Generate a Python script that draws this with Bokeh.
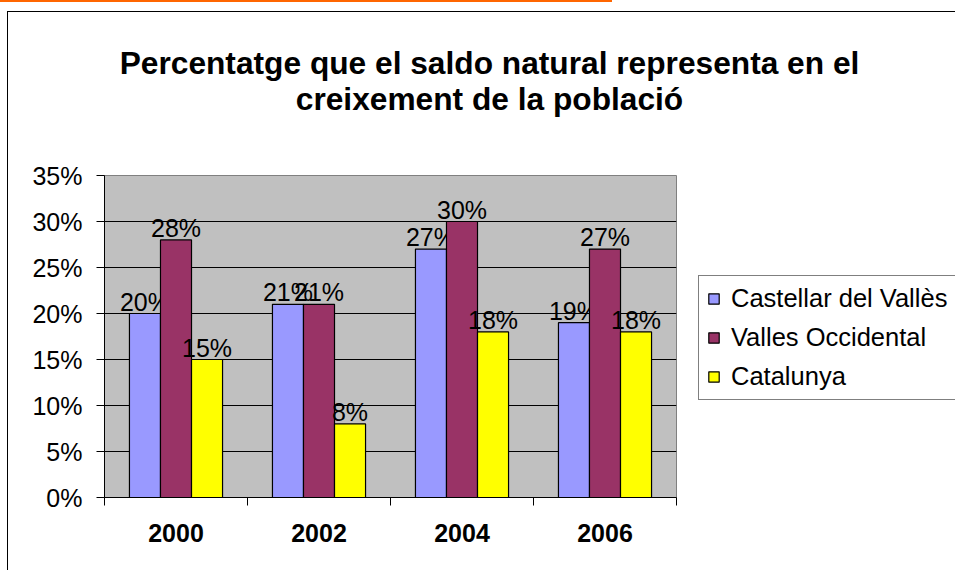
import numpy as np
from bokeh.plotting import figure
from bokeh.layouts import column, row
from bokeh.models import (ColumnDataSource, Range1d, FixedTicker,
                          NumeralTickFormatter, Legend, LegendItem)
from bokeh.core.properties import value
from bokeh.embed import file_html
from bokeh.resources import INLINE

# ---------------- data ----------------
title_lines = ["Percentatge que el saldo natural representa en el",
               "creixement de la població"]
years = ["2000", "2002", "2004", "2006"]
series = ["Castellar del Vallès", "Valles Occidental", "Catalunya"]
castellar = [0.20, 0.21, 0.27, 0.19]
valles = [0.28, 0.21, 0.30, 0.27]
catalunya = [0.15, 0.08, 0.18, 0.18]
y_ticks = [0.00, 0.05, 0.10, 0.15, 0.20, 0.25, 0.30, 0.35]

# ---------------- style / layout ----------------
colors = ["#9999FF", "#993366", "#FFFF00"]
FONT = "Liberation Sans"
W, H = 955, 570
TITLE_H = 130                          # height of the title strip
FL, FR, FT, FB = 104, 676, 175, 497    # plot frame in page pixels
MAIN_W = FR + 4                        # width of the chart figure
LEG_W = W - MAIN_W                     # width of the legend strip
LEG_LEFT, LEG_BOTTOM = 698, 400        # legend box position in page pixels


def bare(width, height, x_range, y_range):
    f = figure(width=width, height=height, output_backend="svg", toolbar_location=None,
               x_range=x_range, y_range=y_range, x_axis_type=None, y_axis_type=None,
               min_border=0, title=None, frame_align=False)
    f.outline_line_color = None
    f.grid.visible = False
    f.background_fill_color = "white"
    f.border_fill_color = "white"
    return f


# ---- title strip ----
t = bare(W, TITLE_H, Range1d(0, W), Range1d(TITLE_H, 0))
t.text(x=[489, 489], y=[62, 98], text=title_lines, text_align="center",
       text_baseline="alphabetic", text_font=value(FONT), text_font_size="31.7px",
       text_font_style="bold", text_color="black")

# ---- main chart ----
n = len(years)
x_lo, x_hi = -0.5, n - 0.5

p = figure(width=MAIN_W, height=H - TITLE_H, output_backend="svg", toolbar_location=None,
           title=None, frame_align=False,
           x_range=Range1d(x_lo, x_hi), y_range=Range1d(y_ticks[0], y_ticks[-1]),
           min_border_left=FL, min_border_right=MAIN_W - FR,
           min_border_top=FT - TITLE_H, min_border_bottom=H - FB)

p.background_fill_color = "#C0C0C0"
p.border_fill_color = "white"
p.outline_line_color = "#808080"
p.outline_line_width = 1

base = np.arange(n)
bar_w = 0.217
offsets = [-bar_w, 0.0, bar_w]
sources = []
for vals, col, off in zip([castellar, valles, catalunya], colors, offsets):
    src = ColumnDataSource(dict(x=base + off, top=vals,
                                label=[f"{round(v * 100)}%" for v in vals]))
    sources.append(src)
    p.vbar(x="x", top="top", bottom=0, width=bar_w, source=src,
           fill_color=col, line_color="black", line_width=1.2)
    p.text(x="x", y="top", text="label", source=src, text_align="center",
           text_baseline="middle", y_offset=-12,
           text_font=value(FONT), text_font_size="25px", text_color="black")

# axes
p.xaxis.ticker = FixedTicker(ticks=[int(i) for i in base],
                             minor_ticks=[float(v) for v in np.arange(n + 1) - 0.5])
p.xaxis.major_label_overrides = {int(i): y for i, y in zip(base, years)}
p.xaxis.major_tick_out = 0
p.xaxis.major_tick_in = 0
p.xaxis.minor_tick_out = 8
p.xaxis.minor_tick_in = 0
p.xaxis.minor_tick_line_color = "black"
p.xaxis.axis_line_color = "black"
p.xaxis.major_label_text_font = FONT
p.xaxis.major_label_text_font_size = "25px"
p.xaxis.major_label_text_font_style = "bold"
p.xaxis.major_label_text_color = "black"
p.xaxis.major_label_standoff = 18

yticker = FixedTicker(ticks=y_ticks)
p.yaxis.ticker = yticker
p.yaxis.formatter = NumeralTickFormatter(format="0%")
p.yaxis.major_tick_out = 8
p.yaxis.major_tick_in = 0
p.yaxis.minor_tick_out = 0
p.yaxis.minor_tick_in = 0
p.yaxis.major_tick_line_color = "black"
p.yaxis.axis_line_color = "black"
p.yaxis.major_label_text_font = FONT
p.yaxis.major_label_text_font_size = "25px"
p.yaxis.major_label_text_color = "black"
p.yaxis.major_label_standoff = 14

p.xgrid.visible = False
p.ygrid.ticker = yticker
p.ygrid.grid_line_color = "black"
p.ygrid.grid_line_width = 1

# ---- legend strip: hidden copies of the series give the legend its swatches ----
lf = bare(LEG_W, H - TITLE_H, Range1d(0, 1), Range1d(0, 1))
leg_items = []
for name, col, src in zip(series, colors, sources):
    r = lf.vbar(x="x", top="top", bottom=0, width=bar_w, source=src,
                fill_color=col, line_color="black", line_width=1.2, visible=False)
    leg_items.append(LegendItem(label=name, renderers=[r]))
legend = Legend(items=leg_items, location=(LEG_LEFT - MAIN_W, H - LEG_BOTTOM),
                margin=0, padding=8, spacing=10,
                label_standoff=11, glyph_width=13, glyph_height=13,
                label_text_font=FONT, label_text_font_size="25.5px", label_text_color="black",
                border_line_color="black", border_line_width=1,
                background_fill_color="white", background_fill_alpha=1,
                inactive_fill_alpha=0)
lf.add_layout(legend)

layout = column(t, row(p, lf, spacing=0), spacing=0)

html = file_html(layout, INLINE)
css = ("<style>html,body{margin:0;padding:0;overflow:hidden;}"
       "body::before{content:'';position:absolute;left:0;top:0;width:612px;height:2px;"
       "background:#FF6600;z-index:10;}"
       "body::after{content:'';position:absolute;left:7px;top:11px;width:1000px;height:1000px;"
       "border:1px solid #000;z-index:10;pointer-events:none;}</style>")
html = html.replace("</head>", css + "</head>", 1)
open("out.html", "w").write(html)
